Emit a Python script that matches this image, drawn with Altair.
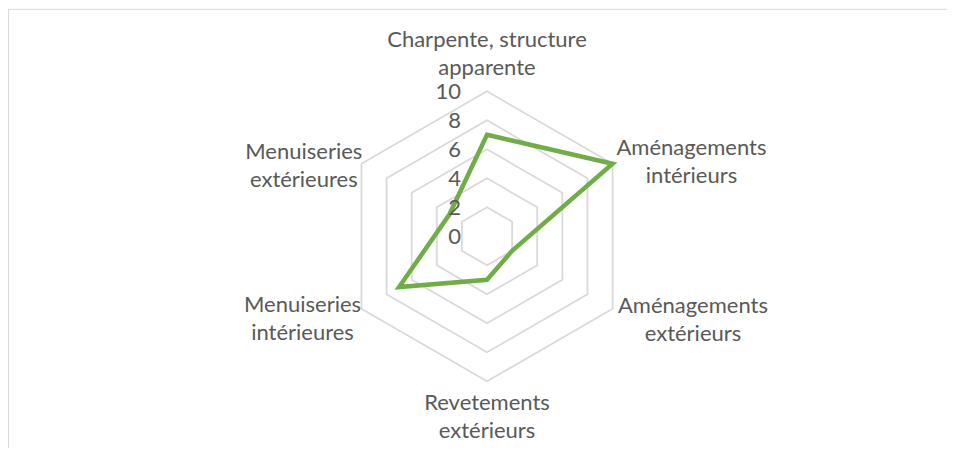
import math
import altair as alt
import pandas as pd

# ---- data ----
categories = [
    "Charpente, structure\napparente",
    "Aménagements\nintérieurs",
    "Aménagements\nextérieurs",
    "Revetements\nextérieurs",
    "Menuiseries\nintérieures",
    "Menuiseries\nextérieures",
]
values = [7, 10, 2, 3, 7, 3]
ticks = [0, 2, 4, 6, 8, 10]
tick_labels = ["0", "2", "4", "6", "8", "10"]
r_max = 10

# ---- layout ----
W, H = 939, 440
CX, CY = 479, 228.3          # centre of the radar in plot pixels
U = 14.5                      # pixels per unit
xdom = [-CX / U, (W - CX) / U]
ydom = [-(H - CY) / U, CY / U]
xs = alt.Scale(domain=xdom, nice=False, zero=False)
ys = alt.Scale(domain=ydom, nice=False, zero=False)

n = len(categories)
ang = [math.radians(90 - 360 / n * i) for i in range(n)]

grid = pd.DataFrame(
    [
        {"level": t, "idx": i, "x": t * math.cos(a), "y": t * math.sin(a)}
        for t in ticks
        for i, a in enumerate(ang)
    ]
)
series = pd.DataFrame(
    [
        {"idx": i, "cat": categories[i], "v": v, "x": v * math.cos(a), "y": v * math.sin(a)}
        for i, (v, a) in enumerate(zip(values, ang))
    ]
)

# label shift (pixels) from the outer vertex to the first-line baseline anchor
label_shift = [(0, -44.6), (78.9, -8.8), (80.4, 4.5), (0, 28.7), (-58.9, 2.9), (-57.6, -4.5)]
labels = pd.DataFrame(
    [
        {
            "txt": categories[i],
            "x": r_max * math.cos(a) + label_shift[i][0] / U,
            "y": r_max * math.sin(a) - label_shift[i][1] / U,
        }
        for i, a in enumerate(ang)
    ]
)
tickdf = pd.DataFrame({"t": ticks, "lab": tick_labels, "x": [-26 / U] * len(ticks)})

TXT = "#595959"
FONT = "Lato"

grid_layer = alt.Chart(grid).mark_line(
    interpolate="linear-closed", color="#d9d9d9", strokeWidth=1.8
).encode(
    x=alt.X("x:Q", scale=xs, axis=None),
    y=alt.Y("y:Q", scale=ys, axis=None),
    detail="level:N",
    order="idx:Q",
)

line_layer = alt.Chart(series).mark_line(
    interpolate="linear-closed", color="#70ad47", strokeWidth=4.5, strokeJoin="miter"
).encode(
    x=alt.X("x:Q", scale=xs, axis=None),
    y=alt.Y("y:Q", scale=ys, axis=None),
    order="idx:Q",
)

label_layer = alt.Chart(labels).mark_text(
    font=FONT, fontSize=22, color=TXT, align="center", baseline="alphabetic",
    lineBreak="\n", lineHeight=28,
).encode(
    x=alt.X("x:Q", scale=xs, axis=None),
    y=alt.Y("y:Q", scale=ys, axis=None),
    text="txt:N",
)

tick_layer = alt.Chart(tickdf).mark_text(
    font=FONT, fontSize=22, color=TXT, align="right", baseline="middle", dy=1
).encode(
    x=alt.X("x:Q", scale=xs, axis=None),
    y=alt.Y("t:Q", scale=ys, axis=None),
    text="lab:N",
)

one = pd.DataFrame({"a": [0]})
border_top = alt.Chart(one).mark_rule(color="#d9d9d9", strokeWidth=1, clip=False).encode(
    x=alt.value(0), x2=alt.value(W + 8), y=alt.value(1.3)
)
border_left = alt.Chart(one).mark_rule(color="#d9d9d9", strokeWidth=1, clip=False).encode(
    x=alt.value(0.5), y=alt.value(1.3), y2=alt.value(H + 10)
)

chart = (
    alt.layer(border_top, border_left, grid_layer, line_layer, tick_layer, label_layer)
    .properties(width=W, height=H, autosize=alt.AutoSizeParams(type="none"), padding=0)
    .configure_view(stroke=None)
)

chart.save("out.html", embed_options={"renderer": "svg", "actions": False})
